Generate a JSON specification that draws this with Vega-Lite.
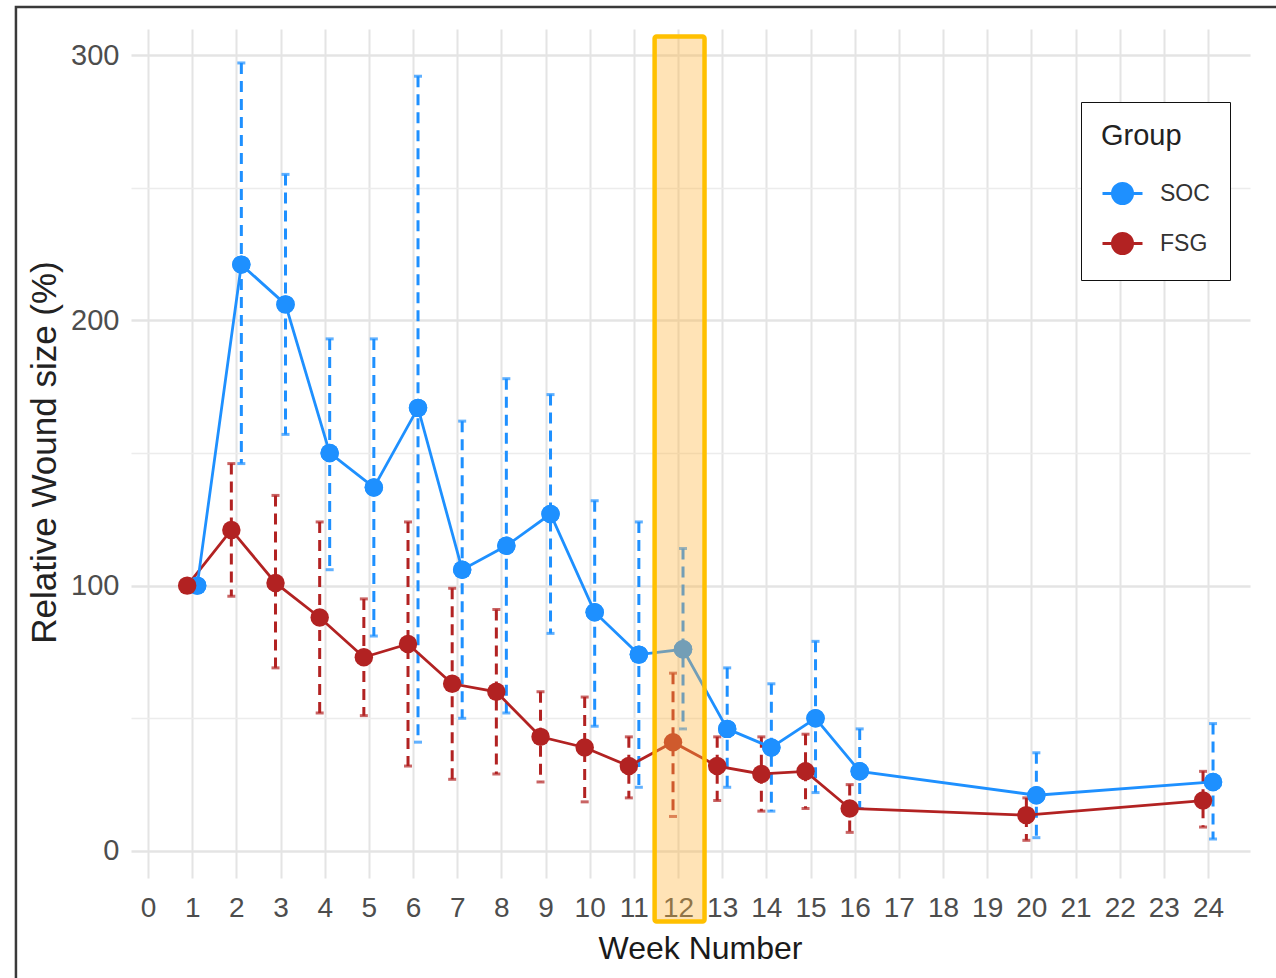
{
  "$schema": "https://vega.github.io/schema/vega-lite/v6.json",
  "width": 1119,
  "height": 849,
  "autosize": {"type": "none"},
  "padding": {"left": 131, "top": 29, "right": 26, "bottom": 100},
  "background": "white",
  "config": {
    "view": {"stroke": null},
    "font": "Liberation Sans"
  },
  "datasets": {
    "d": [
      {"week": 1, "group": "SOC", "mean": 100, "lo": null, "hi": null},
      {"week": 2, "group": "SOC", "mean": 221, "lo": 146, "hi": 297},
      {"week": 3, "group": "SOC", "mean": 206, "lo": 157, "hi": 255},
      {"week": 4, "group": "SOC", "mean": 150, "lo": 106, "hi": 193},
      {"week": 5, "group": "SOC", "mean": 137, "lo": 81, "hi": 193},
      {"week": 6, "group": "SOC", "mean": 167, "lo": 41, "hi": 292},
      {"week": 7, "group": "SOC", "mean": 106, "lo": 50, "hi": 162},
      {"week": 8, "group": "SOC", "mean": 115, "lo": 52, "hi": 178},
      {"week": 9, "group": "SOC", "mean": 127, "lo": 82, "hi": 172},
      {"week": 10, "group": "SOC", "mean": 90, "lo": 47, "hi": 132},
      {"week": 11, "group": "SOC", "mean": 74, "lo": 24, "hi": 124},
      {"week": 12, "group": "SOC", "mean": 76, "lo": 46, "hi": 114},
      {"week": 13, "group": "SOC", "mean": 46, "lo": 24, "hi": 69},
      {"week": 14, "group": "SOC", "mean": 39, "lo": 15, "hi": 63},
      {"week": 15, "group": "SOC", "mean": 50, "lo": 22, "hi": 79},
      {"week": 16, "group": "SOC", "mean": 30, "lo": 16, "hi": 46},
      {"week": 20, "group": "SOC", "mean": 21, "lo": 5, "hi": 37},
      {"week": 24, "group": "SOC", "mean": 26, "lo": 4.5, "hi": 48},
      {"week": 1, "group": "FSG", "mean": 100, "lo": null, "hi": null},
      {"week": 2, "group": "FSG", "mean": 121, "lo": 96, "hi": 146},
      {"week": 3, "group": "FSG", "mean": 101, "lo": 69, "hi": 134},
      {"week": 4, "group": "FSG", "mean": 88, "lo": 52, "hi": 124},
      {"week": 5, "group": "FSG", "mean": 73, "lo": 51, "hi": 95},
      {"week": 6, "group": "FSG", "mean": 78, "lo": 32, "hi": 124},
      {"week": 7, "group": "FSG", "mean": 63, "lo": 27, "hi": 99},
      {"week": 8, "group": "FSG", "mean": 60, "lo": 29, "hi": 91},
      {"week": 9, "group": "FSG", "mean": 43, "lo": 26, "hi": 60},
      {"week": 10, "group": "FSG", "mean": 39, "lo": 18.5, "hi": 58},
      {"week": 11, "group": "FSG", "mean": 32, "lo": 20, "hi": 43},
      {"week": 12, "group": "FSG", "mean": 41, "lo": 13, "hi": 67},
      {"week": 13, "group": "FSG", "mean": 32, "lo": 19, "hi": 43},
      {"week": 14, "group": "FSG", "mean": 29, "lo": 15, "hi": 43},
      {"week": 15, "group": "FSG", "mean": 30, "lo": 16, "hi": 44},
      {"week": 16, "group": "FSG", "mean": 16, "lo": 7, "hi": 25},
      {"week": 20, "group": "FSG", "mean": 13.5, "lo": 4, "hi": 20},
      {"week": 24, "group": "FSG", "mean": 19, "lo": 9, "hi": 30}
    ],
    "frame": [{"x1": -2.99, "x2": 40, "y1": 318.1, "y2": -100}],
    "highlight": [{"x1": 11.47, "x2": 12.6, "y1": 307.0, "y2": -26.6}]
  },
  "layer": [
    {
      "data": {"name": "d"},
      "transform": [{"filter": "datum.group === 'SOC'"}],
      "mark": {"type": "point", "filled": true, "size": 340, "opacity": 1, "xOffset": 5},
      "encoding": {
        "x": {
          "field": "week", "type": "quantitative",
          "scale": {"domain": [-0.385, 24.95], "nice": false, "zero": false},
          "axis": {
            "title": "Week Number",
            "values": [0,0.5,1,1.5,2,2.5,3,3.5,4,4.5,5,5.5,6,6.5,7,7.5,8,8.5,9,9.5,10,10.5,11,11.5,12,12.5,13,13.5,14,14.5,15,15.5,16,16.5,17,17.5,18,18.5,19,19.5,20,20.5,21,21.5,22,22.5,23,23.5,24,24.5],
            "labelExpr": "datum.value % 1 === 0 ? '' + datum.value : ''",
            "grid": true,
            "gridColor": {"condition": {"test": "datum.value % 1 === 0", "value": "#e4e4e4"}, "value": "#e2e2e2"},
            "gridWidth": {"condition": {"test": "datum.value % 1 === 0", "value": 2}, "value": 1.5},
            "domain": false, "ticks": false, "tickSize": 0,
            "labelFont": "Liberation Sans", "labelFontSize": 28, "labelColor": "#4d4d4d",
            "labelPadding": 16, "labelOverlap": false, "labelFlush": false, "labelBound": false,
            "titleFont": "Liberation Sans", "titleFontSize": 32, "titleFontWeight": "normal", "titleColor": "#1a1a1a",
            "titleX": 569, "titleY": 80, "titleBaseline": "alphabetic", "titleAlign": "center"
          }
        },
        "y": {
          "field": "mean", "type": "quantitative",
          "scale": {"domain": [-10.2, 309.8], "nice": false, "zero": false},
          "axis": {
            "title": "Relative Wound size (%)",
            "values": [0, 50, 100, 150, 200, 250, 300],
            "labelExpr": "datum.value % 100 === 0 ? '' + datum.value : ''",
            "grid": true,
            "gridColor": {"condition": {"test": "datum.value % 100 === 0", "value": "#e4e4e4"}, "value": "#ececec"},
            "gridWidth": {"condition": {"test": "datum.value % 100 === 0", "value": 2.5}, "value": 1.5},
            "domain": false, "ticks": false, "tickSize": 0,
            "labelFont": "Liberation Sans", "labelFontSize": 29, "labelColor": "#4d4d4d",
            "labelPadding": 12, "labelOverlap": false, "labelFlush": false, "labelBound": false,
            "titleFont": "Liberation Sans", "titleFontSize": 35, "titleFontWeight": "normal", "titleColor": "#222222",
            "titleX": -76, "titleY": 423, "titleAngle": -90, "titleBaseline": "alphabetic", "titleAlign": "center"
          }
        },
        "color": {
          "field": "group", "type": "nominal",
          "scale": {"domain": ["SOC", "FSG"], "range": ["#1E90FF", "#B22222"]},
          "legend": {
            "title": "Group",
            "orient": "none", "legendX": 950, "legendY": 73,
            "padding": 20, "titlePadding": 21, "rowPadding": 12,
            "symbolType": "M-1,0L1,0M0.5,0A0.5,0.5,0,1,1,-0.5,0A0.5,0.5,0,1,1,0.5,0Z",
            "symbolSize": 1600, "symbolStrokeWidth": 3,
            "labelOffset": 16,
            "strokeColor": "#111111", "fillColor": "white",
            "titleFont": "Liberation Sans", "titleFontSize": 29, "titleFontWeight": "normal", "titleColor": "#222222",
            "labelFont": "Liberation Sans", "labelFontSize": 23, "labelColor": "#333333",
            "encode": {
              "legend": {"update": {"strokeWidth": {"value": 2.5}}},
              "symbols": {"update": {"stroke": {"scale": "color", "field": "value"}, "strokeWidth": {"value": 3}}}
            }
          }
        }
      }
    },
    {
      "data": {"name": "frame"},
      "mark": {"type": "rect", "fill": "transparent", "fillOpacity": 0, "stroke": "#3a3a3a", "strokeWidth": 2.5},
      "encoding": {
        "x": {"field": "x1", "type": "quantitative"},
        "x2": {"field": "x2"},
        "y": {"field": "y1", "type": "quantitative"},
        "y2": {"field": "y2"}
      }
    },
    {
      "data": {"name": "d"},
      "transform": [{"filter": "datum.group === 'FSG'"}],
      "layer": [
        {
          "mark": {"type": "rule", "strokeWidth": 3, "strokeDash": [11, 7], "xOffset": -5},
          "encoding": {
            "x": {"field": "week", "type": "quantitative"},
            "y": {"field": "hi", "type": "quantitative"},
            "y2": {"field": "lo"},
            "color": {"field": "group", "type": "nominal", "legend": null}
          }
        },
        {
          "mark": {"type": "tick", "orient": "horizontal", "size": 8, "thickness": 3, "xOffset": -5},
          "encoding": {
            "x": {"field": "week", "type": "quantitative"},
            "y": {"field": "hi", "type": "quantitative"},
            "color": {"field": "group", "type": "nominal", "legend": null}
          }
        },
        {
          "mark": {"type": "tick", "orient": "horizontal", "size": 8, "thickness": 3, "xOffset": -5},
          "encoding": {
            "x": {"field": "week", "type": "quantitative"},
            "y": {"field": "lo", "type": "quantitative"},
            "color": {"field": "group", "type": "nominal", "legend": null}
          }
        }
      ]
    },
    {
      "data": {"name": "d"},
      "transform": [{"filter": "datum.group === 'SOC'"}],
      "layer": [
        {
          "mark": {"type": "rule", "strokeWidth": 3, "strokeDash": [11, 7], "xOffset": 5},
          "encoding": {
            "x": {"field": "week", "type": "quantitative"},
            "y": {"field": "hi", "type": "quantitative"},
            "y2": {"field": "lo"},
            "color": {"field": "group", "type": "nominal", "legend": null}
          }
        },
        {
          "mark": {"type": "tick", "orient": "horizontal", "size": 8, "thickness": 3, "xOffset": 5},
          "encoding": {
            "x": {"field": "week", "type": "quantitative"},
            "y": {"field": "hi", "type": "quantitative"},
            "color": {"field": "group", "type": "nominal", "legend": null}
          }
        },
        {
          "mark": {"type": "tick", "orient": "horizontal", "size": 8, "thickness": 3, "xOffset": 5},
          "encoding": {
            "x": {"field": "week", "type": "quantitative"},
            "y": {"field": "lo", "type": "quantitative"},
            "color": {"field": "group", "type": "nominal", "legend": null}
          }
        }
      ]
    },
    {
      "data": {"name": "d"},
      "transform": [{"filter": "datum.group === 'FSG'"}],
      "mark": {"type": "line", "strokeWidth": 2.8, "xOffset": -5},
      "encoding": {
        "x": {"field": "week", "type": "quantitative"},
        "y": {"field": "mean", "type": "quantitative"},
        "color": {"field": "group", "type": "nominal", "legend": null}
      }
    },
    {
      "data": {"name": "d"},
      "transform": [{"filter": "datum.group === 'SOC'"}],
      "mark": {"type": "line", "strokeWidth": 2.8, "xOffset": 5},
      "encoding": {
        "x": {"field": "week", "type": "quantitative"},
        "y": {"field": "mean", "type": "quantitative"},
        "color": {"field": "group", "type": "nominal", "legend": null}
      }
    },
    {
      "data": {"name": "d"},
      "transform": [{"filter": "datum.group === 'SOC'"}],
      "mark": {"type": "point", "filled": true, "size": 340, "opacity": 1, "xOffset": 5},
      "encoding": {
        "x": {"field": "week", "type": "quantitative"},
        "y": {"field": "mean", "type": "quantitative"},
        "color": {"field": "group", "type": "nominal", "legend": null}
      }
    },
    {
      "data": {"name": "d"},
      "transform": [{"filter": "datum.group === 'FSG'"}],
      "mark": {"type": "point", "filled": true, "size": 340, "opacity": 1, "xOffset": -5},
      "encoding": {
        "x": {"field": "week", "type": "quantitative"},
        "y": {"field": "mean", "type": "quantitative"},
        "color": {"field": "group", "type": "nominal", "legend": null}
      }
    },
    {
      "data": {"name": "highlight"},
      "mark": {"type": "rect", "fill": "#FFB640", "fillOpacity": 0.38, "stroke": "#FFC000", "strokeWidth": 4.5, "cornerRadius": 2},
      "encoding": {
        "x": {"field": "x1", "type": "quantitative"},
        "x2": {"field": "x2"},
        "y": {"field": "y1", "type": "quantitative"},
        "y2": {"field": "y2"}
      }
    }
  ]
}
